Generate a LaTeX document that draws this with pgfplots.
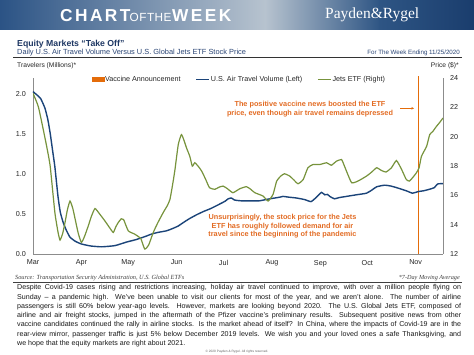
\documentclass[border=0pt]{standalone}
\usepackage{pgfplots}
\pgfplotsset{compat=1.18}
\usepackage{pgfplotstable}
\usetikzlibrary{arrows.meta}
\usepackage{fontspec}
\setmainfont{Liberation Sans}
\newfontfamily\serifP{Liberation Serif}
\newfontfamily\cotw[LetterSpace=14]{Liberation Sans}
\newfontfamily\cotwl[LetterSpace=4]{Liberation Sans}
\newcommand{\fs}[2]{\fontsize{#1}{#2}\selectfont}
\definecolor{navyline}{HTML}{1B4479}
\definecolor{olive}{HTML}{77933C}
\definecolor{vorange}{HTML}{E46C0A}
\definecolor{annot}{HTML}{E36C24}
\definecolor{titlenavy}{HTML}{1F3864}
\definecolor{subnavy}{HTML}{2B4676}
\definecolor{banL}{HTML}{2B5385}
\definecolor{banM}{HTML}{B7C3CF}
\definecolor{banR1}{HTML}{2E5584}
\definecolor{banR}{HTML}{1A3D6D}
\definecolor{axisgray}{HTML}{8C8C8C}

\pgfplotstableread{
d v
0 2.03
3 1.98
5 1.94
7.7 1.82
9.5 1.68
11 1.51
12.5 1.30
14 1.09
16 0.72
17.5 0.52
19.4 0.39
21.5 0.29
23.7 0.21
27 0.16
31 0.125
37 0.10
44 0.09
52.5 0.105
60 0.15
66 0.18
72 0.22
76 0.25
80 0.27
85.5 0.29
89.6 0.32
93 0.35
96 0.39
100 0.44
104.7 0.49
109 0.53
114 0.57
119.6 0.625
123 0.66
125 0.69
127 0.70
129 0.675
133 0.665
140 0.665
145 0.665
151.6 0.69
158 0.71
160 0.72
164 0.71
168.7 0.70
174 0.68
178 0.655
181.5 0.71
184.7 0.77
186.8 0.74
188.5 0.745
190 0.72
193 0.69
196 0.705
200.7 0.72
207 0.74
213.5 0.76
217 0.80
220 0.84
225 0.86
229 0.85
232.7 0.83
239 0.79
243 0.76
246.5 0.78
250 0.79
254 0.81
257 0.83
259 0.875
262.5 0.88
}\travel

\pgfplotstableread{
d p
0 22.96
3.4 22.05
6.6 20.47
9 19.2
11 17.99
14 14.83
16 13.5
17.3 12.95
19 13.4
20.5 14.15
22 15.0
23.7 15.61
25.5 15.1
27 14.37
29 13.4
31 12.79
33 13.2
35.4 13.92
37.5 14.6
39.7 15.10
42.5 14.75
46 14.26
49 13.8
51.4 13.47
53 13.85
54.6 14.15
56.5 14.4
58 14.35
61 13.58
65 13.36
69 13.05
71.5 12.34
74 12.6
77 13.47
80 14.15
83.4 14.83
86 15.3
87.7 15.73
89.5 16.8
90.9 17.76
93 19.46
95 20.14
96.5 19.8
98.3 19.23
100.4 18.66
102 17.99
103.6 18.22
106 17.95
108 17.65
110.5 17.1
113 16.52
116.4 16.41
119 16.55
121.7 16.63
124.5 16.45
128 16.18
132.4 16.45
136.7 16.59
139.5 16.4
142 16.18
147.3 15.95
150.5 15.61
153.7 16.07
156 16.97
158.5 17.3
161 17.47
164.4 17.31
167 17.05
169.7 16.79
173 17.08
176 17.88
179.3 18.10
183.6 18.10
188 18.22
191 18.05
194.3 18.33
197.5 18.44
199 18.1
200.7 17.65
204 16.86
208 16.97
213.5 17.31
217 17.6
220 17.88
223 17.7
226 17.59
229.5 17.88
232.7 18.37
236 17.76
239 17.08
241 16.97
243 17.2
245.5 17.54
247.2 17.88
248.7 18.66
252 19.34
254 20.14
256 20.36
258.3 20.70
260.4 20.97
262.5 21.27
}\jets

\begin{document}
\begin{tikzpicture}
\path[use as bounding box] (0pt,0pt) rectangle (474pt,-355pt);
\fill[white] (0pt,0pt) rectangle (474pt,-355pt);
% banner
\shade[left color=banL, right color=banM] (0pt,0pt) rectangle (265pt,-30pt);
\shade[left color=banM, right color=banR1] (264.9pt,0pt) rectangle (380pt,-30pt);
\shade[left color=banR1, right color=banR] (379.9pt,0pt) rectangle (474pt,-30pt);
\node[anchor=base west, inner sep=0pt, text=white, font=\cotw\bfseries\fs{17.3}{18}] at (60pt,-21.7pt) {CHART};
\node[anchor=base west, inner sep=0pt, text=white, font=\cotwl\fs{11.8}{12}] at (129.5pt,-21.7pt) {OFTHE};
\node[anchor=base west, inner sep=0pt, text=white, font=\cotw\bfseries\fs{17.3}{18}] at (172pt,-21.7pt) {WEEK};
\node[anchor=base west, inner sep=0pt, text=white, font=\serifP\fs{15.5}{16}] at (325pt,-19pt) {Payden\&Rygel};
% titles
\node[anchor=base west, inner sep=0pt, text=titlenavy, font=\bfseries\fs{8.7}{10}] at (17pt,-46.6pt) {Equity Markets “Take Off”};
\node[anchor=base west, inner sep=0pt, text=subnavy, font=\fs{7.4}{9}] at (17pt,-54.5pt) {Daily U.S. Air Travel Volume Versus U.S. Global Jets ETF Stock Price};
\node[anchor=base east, inner sep=0pt, text=subnavy, font=\fs{6.2}{7}] at (460pt,-54.3pt) {For The Week Ending 11/25/2020};
\draw[line width=1.2pt, color=black!80] (13pt,-57.3pt) -- (462pt,-57.3pt);
\node[anchor=base west, inner sep=0pt, text=black!85, font=\fs{6.7}{8}] at (17pt,-67.7pt) {Travelers (Millions)*};
\node[anchor=base east, inner sep=0pt, text=black!85, font=\fs{6.7}{8}] at (459pt,-67.9pt) {Price (\$)*};

% left axis: air travel
\begin{axis}[
  at={(33pt,-254pt)}, anchor=south west, scale only axis,
  width=410pt, height=176pt,
  xmin=0, xmax=262.5, ymin=0, ymax=2.2,
  axis x line*=bottom, axis y line*=left,
  axis line style={draw=axisgray, line width=0.6pt, -},
  xtick={0,31,61,92,122,153,184,214,245},
  xticklabels={Mar,Apr,May,Jun,Jul,Aug,Sep,Oct,Nov},
  ytick={0,0.5,1,1.5,2},
  yticklabel style={/pgf/number format/fixed, /pgf/number format/fixed zerofill, /pgf/number format/precision=1, xshift=-3.5pt},
  xticklabel style={yshift=-2.5pt},
  major tick length=0pt,
  tick label style={font=\fs{7.2}{8}, text=black!85},
  /pgf/number format/assume math mode=true,
  clip=false,
]
\addplot[vorange, line width=1pt] coordinates {(247,0) (247,2.22)};
\addplot[navyline, line width=1.4pt, smooth, tension=0.3] table[x=d, y=v] {\travel};
\end{axis}

% right axis: Jets ETF
\begin{axis}[
  at={(33pt,-254pt)}, anchor=south west, scale only axis,
  width=410pt, height=176pt,
  xmin=0, xmax=262.5, ymin=12, ymax=24,
  axis y line*=right, axis x line=none,
  axis line style={draw=axisgray, line width=0.6pt, -},
  ytick={12,14,16,18,20,22,24},
  yticklabel style={xshift=3.5pt},
  major tick length=0pt,
  tick label style={font=\fs{7.2}{8}, text=black!85},
  /pgf/number format/assume math mode=true,
  legend image code/.code={\draw[#1] (0pt,0pt) -- (13pt,0pt);},
  legend style={at={(0.502,0.993)}, anchor=center, draw=none, fill=none,
    legend columns=3, font=\fs{7.2}{8}, inner sep=0pt,
    nodes={inner sep=1pt, text=black!85},
    /tikz/every even column/.append style={column sep=14pt}},
]
\addlegendimage{legend image code/.code={\fill[vorange] (0pt,-2pt) rectangle (12pt,2pt);}}
\addlegendentry{Vaccine Announcement}
\addlegendimage{navyline, line width=1.4pt}
\addlegendentry{U.S. Air Travel Volume (Left)}
\addplot[olive, line width=1.2pt, smooth, tension=0.3] table[x=d, y=p] {\jets};
\addlegendentry{Jets ETF (Right)}
\end{axis}

% annotations
\node[align=center, inner sep=0pt, text=annot, font=\bfseries\fs{7.3}{8.3}] at (310pt,-109.2pt) {The positive vaccine news boosted the ETF\\price, even though air travel remains depressed};
\draw[vorange, line width=0.7pt, -{Stealth[length=2.6pt,width=2.6pt]}] (400pt,-108.3pt) -- (414pt,-108.3pt);
\node[align=center, inner sep=0pt, text=annot, font=\bfseries\fs{7.3}{8.7}] at (282.5pt,-226.4pt) {Unsurprisingly, the stock price for the Jets\\ETF has roughly followed demand for air\\travel since the beginning of the pandemic};

% source
\node[anchor=base west, inner sep=0pt, text=black!75, font=\serifP\itshape\fs{6.3}{7}] at (15pt,-279.5pt) {Source: Transportation Security Administration, U.S. Global ETFs};
\node[anchor=base east, inner sep=0pt, text=black!75, font=\serifP\itshape\fs{6.2}{7}] at (460pt,-279.5pt) {*7-Day Moving Average};
\draw[line width=0.9pt, color=black!75] (13pt,-282pt) -- (462pt,-282pt);

% paragraph
\begin{scope}[every node/.style={anchor=base west, inner sep=0pt, text=black!90, font=\fs{7.1}{9.2}}]
\node at (17pt,-289.9pt) {\makebox[444pt][s]{Despite Covid-19 cases rising and restrictions increasing, holiday air travel continued to improve, with over a million people flying on}};
\node at (17pt,-299.1pt) {\makebox[444pt][s]{Sunday – a pandemic high. We’ve been unable to visit our clients for most of the year, and we aren’t alone. The number of airline}};
\node at (17pt,-308.4pt) {\makebox[444pt][s]{passengers is still 60\% below year-ago levels. However, markets are looking beyond 2020. The U.S. Global Jets ETF, composed of}};
\node at (17pt,-317.6pt) {\makebox[444pt][s]{airline and air freight stocks, jumped in the aftermath of the Pfizer vaccine’s preliminary results. Subsequent positive news from other}};
\node at (17pt,-326.8pt) {\makebox[444pt][s]{vaccine candidates continued the rally in airline stocks. Is the market ahead of itself? In China, where the impacts of Covid-19 are in the}};
\node at (17pt,-336.05pt) {\makebox[444pt][s]{rear-view mirror, passenger traffic is just 5\% below December 2019 levels. We wish you and your loved ones a safe Thanksgiving, and}};
\node at (17pt,-345.3pt) {we hope that the equity markets are right about 2021.};
\end{scope}
\node[inner sep=0pt, text=black!60, font=\fs{3.2}{4}] at (237pt,-351.5pt) {© 2020 Payden \& Rygel. All rights reserved.};
\end{tikzpicture}
\end{document}
